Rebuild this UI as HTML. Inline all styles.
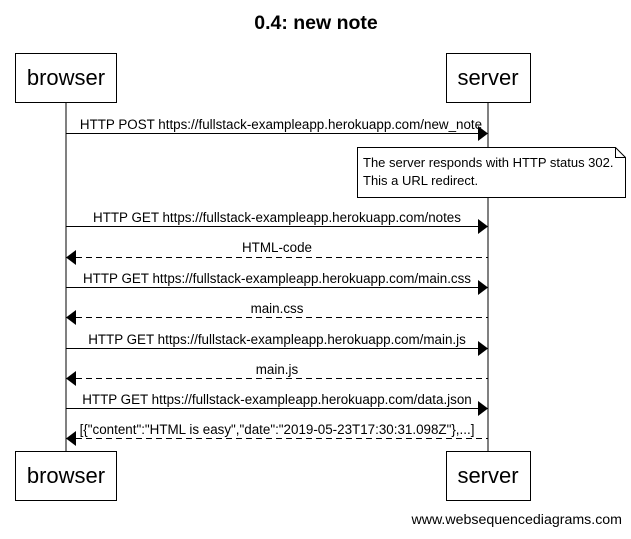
<!DOCTYPE html>
<html><head><style>
body{margin:0;background:#fff;}
svg text{font-family:"Liberation Sans",sans-serif;}
</style></head><body>
<svg width="631" height="534" viewBox="0 0 631 534" xmlns="http://www.w3.org/2000/svg">
<rect width="631" height="534" fill="#fff"/>
<text x="316" y="29" font-size="19.5" font-weight="bold" text-anchor="middle">0.4: new note</text>
<g stroke="#000" stroke-width="1" fill="#fff">
<line x1="66" y1="102" x2="66" y2="451"/>
<line x1="488" y1="102" x2="488" y2="451"/>
<rect x="15.5" y="53.5" width="101" height="49"/>
<rect x="446.5" y="53.5" width="84" height="49"/>
<rect x="15.5" y="451.5" width="101" height="49"/>
<rect x="446.5" y="451.5" width="84" height="49"/>
<path d="M357.5 147.5 H615.5 L625.5 157.5 V197.5 H357.5 Z"/>
<path d="M615.5 147.5 V157.5 H625.5" fill="none"/>
</g>
<g font-size="22" text-anchor="middle">
<text x="66" y="85">browser</text><text x="488" y="85">server</text>
<text x="66" y="483">browser</text><text x="488" y="483">server</text>
</g>
<text x="363" y="167" font-size="13">The server responds with HTTP status 302.</text>
<text x="363" y="185" font-size="13">This a URL redirect.</text>
<g stroke="#000" fill="none">
<line x1="66" y1="133.5" x2="478" y2="133.5"/>
<line x1="66" y1="226.5" x2="478" y2="226.5"/>
<line x1="76" y1="257.5" x2="488" y2="257.5" stroke-dasharray="6,4"/>
<line x1="66" y1="287.5" x2="478" y2="287.5"/>
<line x1="76" y1="317.5" x2="488" y2="317.5" stroke-dasharray="6,4"/>
<line x1="66" y1="348.5" x2="478" y2="348.5"/>
<line x1="76" y1="378.5" x2="488" y2="378.5" stroke-dasharray="6,4"/>
<line x1="66" y1="408.5" x2="478" y2="408.5"/>
<line x1="76" y1="438.5" x2="488" y2="438.5" stroke-dasharray="6,4"/>
</g>
<g fill="#000">
<path d="M478 126 L488 133.5 L478 141Z"/>
<path d="M478 219 L488 226.5 L478 234Z"/>
<path d="M76 250 L66 257.5 L76 265Z"/>
<path d="M478 280 L488 287.5 L478 295Z"/>
<path d="M76 310 L66 317.5 L76 325Z"/>
<path d="M478 341 L488 348.5 L478 356Z"/>
<path d="M76 371 L66 378.5 L76 386Z"/>
<path d="M478 401 L488 408.5 L478 416Z"/>
<path d="M76 431 L66 438.5 L76 446Z"/>
</g>
<g font-size="13.4" text-anchor="middle">
<text x="281" y="129">HTTP POST https://fullstack-exampleapp.herokuapp.com/new_note</text>
<text x="277" y="222">HTTP GET https://fullstack-exampleapp.herokuapp.com/notes</text>
<text x="277" y="252">HTML-code</text>
<text x="277" y="283">HTTP GET https://fullstack-exampleapp.herokuapp.com/main.css</text>
<text x="277" y="313">main.css</text>
<text x="277" y="344">HTTP GET https://fullstack-exampleapp.herokuapp.com/main.js</text>
<text x="277" y="374">main.js</text>
<text x="277" y="404">HTTP GET https://fullstack-exampleapp.herokuapp.com/data.json</text>
<text x="277" y="434">[{"content":"HTML is easy","date":"2019-05-23T17:30:31.098Z"},...]</text>
</g>
<text x="622" y="524" font-size="14.2" text-anchor="end">www.websequencediagrams.com</text>
</svg>
</body></html>
